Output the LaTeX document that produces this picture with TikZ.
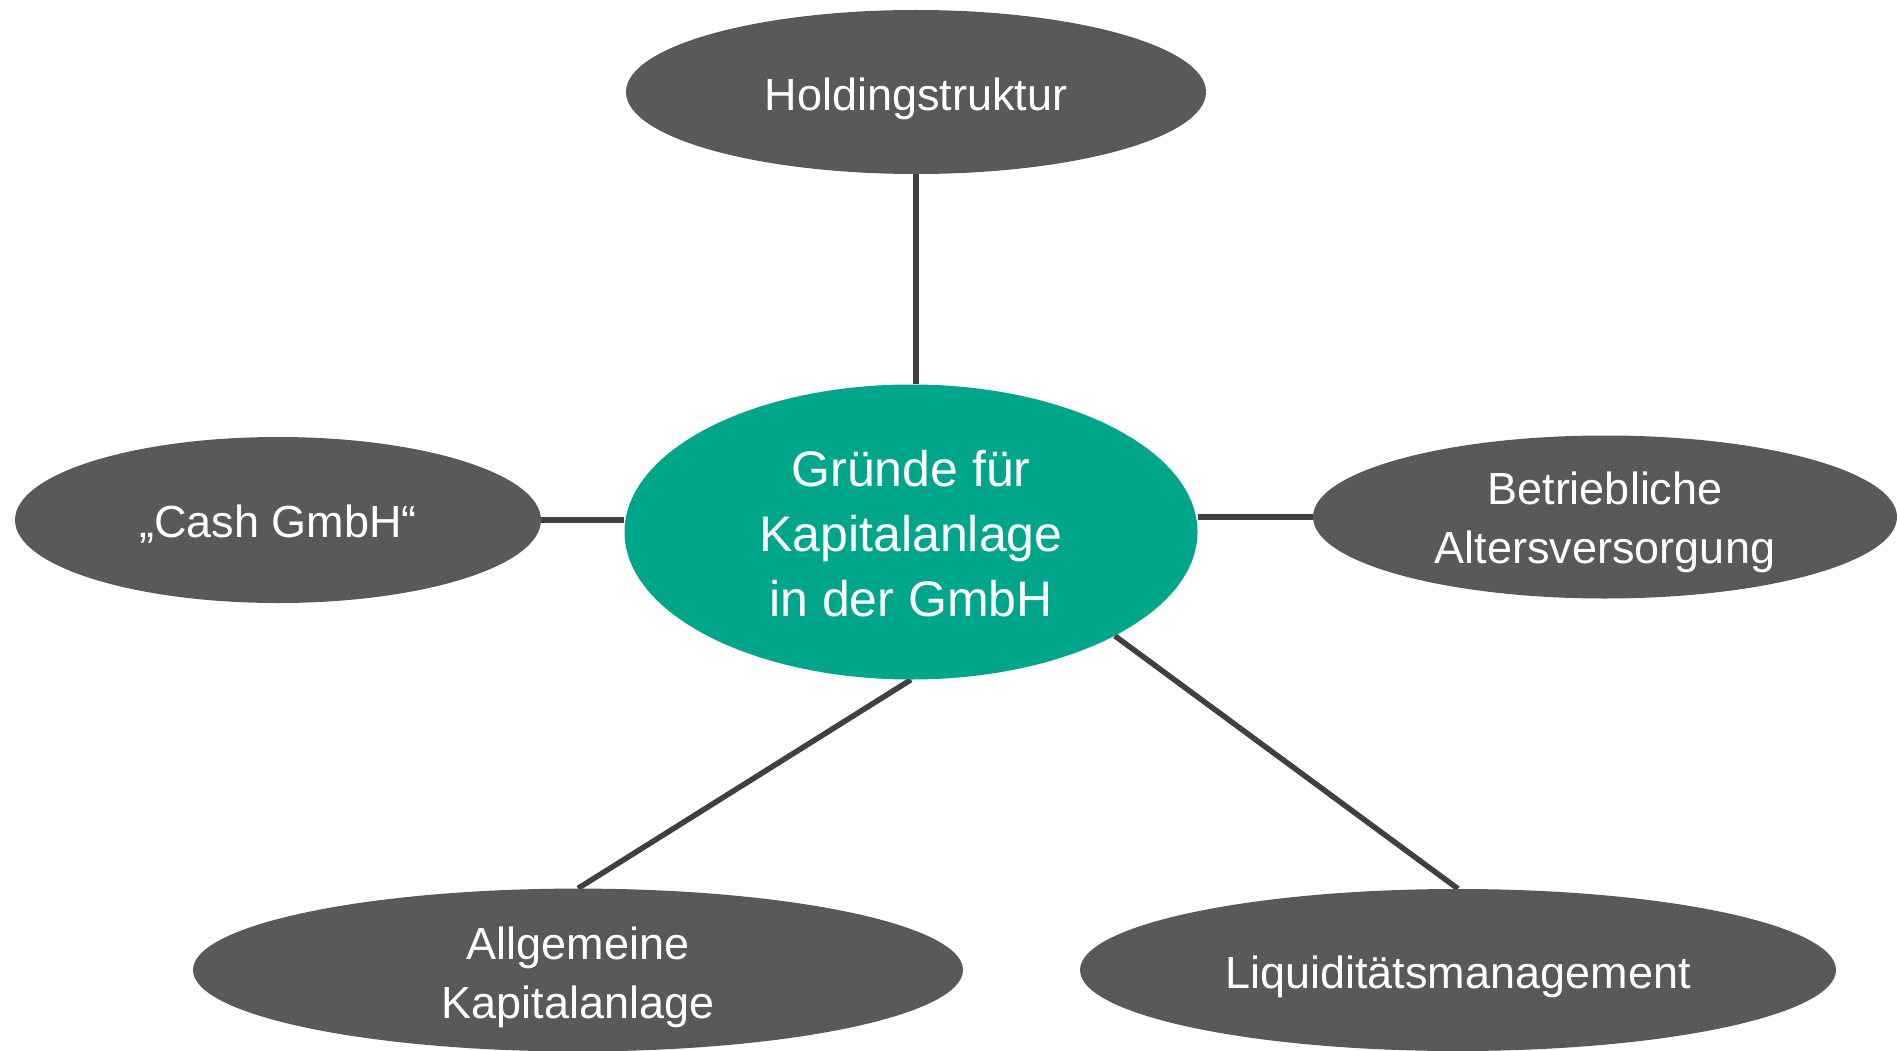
\documentclass[tikz,border=0pt]{standalone}
\usepackage{fontspec}
\setmainfont{Liberation Sans}
\usetikzlibrary{shapes.geometric,backgrounds}
\definecolor{teal1}{HTML}{00A68A}
\definecolor{grayfill}{HTML}{595959}
\definecolor{linegray}{HTML}{404040}
\newcommand{\pptstrut}{\rule[-0.212em]{0pt}{1.227em}}
\newcommand{\cashstrut}{\rule[-0.212em]{0pt}{1.19em}}
\newcommand{\topstrut}[1]{\rule{0pt}{#1}}
\tikzset{
  basebubble/.style={ellipse, text=white, inner sep=0pt, align=center},
  oneline/.style={execute at begin node={\pptstrut}, execute at end node={\pptstrut}},
  outer/.style={basebubble, fill=grayfill, font=\fontsize{45}{59}\selectfont},
  hub/.style={basebubble, fill=teal1, font=\fontsize{50}{65}\selectfont},
  conn/.style={draw=linegray, line width=5.5pt}
}
\begin{document}
\begin{tikzpicture}[x=1pt,y=-1pt]
\useasboundingbox (0,0) rectangle (1897,1051);
\node[hub, minimum width=573pt, minimum height=295pt] (main) at (911,532) {\topstrut{0.79em}Gründe für\\Kapitalanlage\\in der GmbH};
\node[outer, oneline, minimum width=580pt, minimum height=164pt] (hold) at (916,92) {Holdingstruktur};
\node[outer, minimum width=526pt, minimum height=166pt] (cash) at (278,520) {\cashstrut„Cash GmbH“\cashstrut};
\node[outer, minimum width=584pt, minimum height=163pt] (betr) at (1605,517) {\topstrut{0.95em}Betriebliche\\Altersversorgung};
\node[outer, minimum width=770pt, minimum height=162pt] (allg) at (578,970) {\topstrut{1.04em}Allgemeine\\Kapitalanlage};
\node[outer, oneline, minimum width=756pt, minimum height=162pt] (liqu) at (1458,970) {Liquiditätsmanagement};
\begin{scope}[on background layer]
\draw[conn] (hold.south) -- (hold.south |- main.north);
\draw[conn] (cash.east) -- (cash.east -| main.west);
\draw[conn] (betr.west) -- (betr.west -| main.east);
\draw[conn] (main.south) -- (allg.north);
\draw[conn] (main.-27.5) -- (liqu.north);
\end{scope}
\end{tikzpicture}
\end{document}
